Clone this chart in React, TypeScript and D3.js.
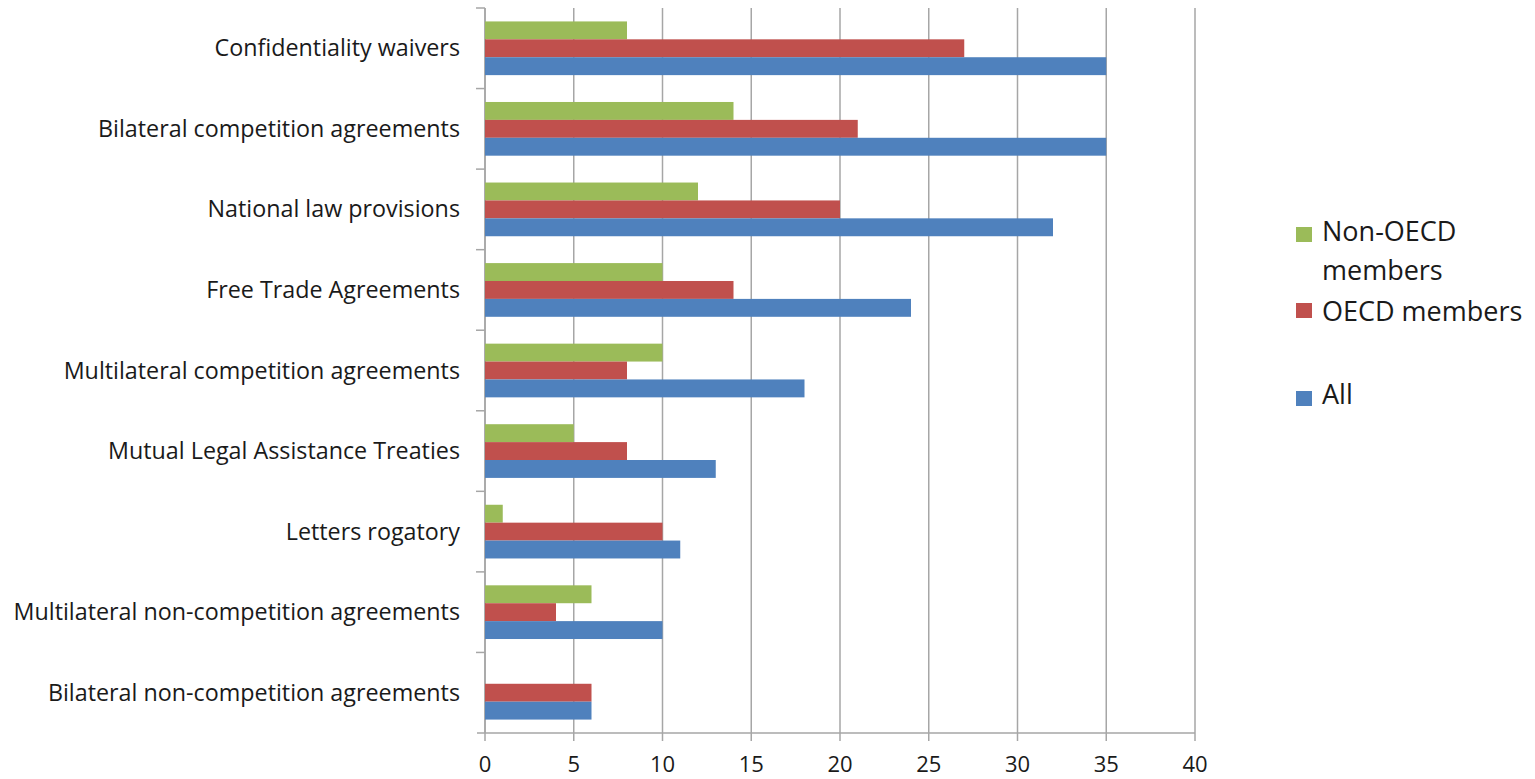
import React from "react";
import * as d3 from "d3";

const categories = [
  "Confidentiality waivers",
  "Bilateral competition agreements",
  "National law provisions",
  "Free Trade Agreements",
  "Multilateral competition agreements",
  "Mutual Legal Assistance Treaties",
  "Letters rogatory",
  "Multilateral non-competition agreements",
  "Bilateral non-competition agreements",
];
const nonOecd = [8, 14, 12, 10, 10, 5, 1, 6, 0];
const oecd = [27, 21, 20, 14, 8, 8, 10, 4, 6];
const all = [35, 35, 32, 24, 18, 13, 11, 10, 6];
const xTicks = [0, 5, 10, 15, 20, 25, 30, 35, 40];

const seriesNames = ["Non-OECD", "OECD members", "All"];
const colors = ["#9BBB59", "#C0504D", "#4F81BD"];

const W = 1535;
const H = 779;
const left = 485;
const right = 1195;
const top = 8;
const bottom = 733;
const FONT = "'Open Sans', sans-serif";

export default function App() {
  const x = d3.scaleLinear().domain([0, 40]).range([left, right]);
  const y = d3.scaleBand().domain(categories).range([top, bottom]).paddingInner(0).paddingOuter(0);
  const bw = y.bandwidth();
  const barH = bw / 4.5;
  const gap = (bw - 3 * barH) / 2;
  const sub = d3.scaleBand().domain(["0", "1", "2"]).range([gap, gap + 3 * barH]);
  const series = [nonOecd, oecd, all];
  const grid = "#A6A6A6";

  return (
    <svg width={W} height={H} style={{ position: "absolute", left: 0, top: 0 }} fontFamily={FONT}>
      <rect width={W} height={H} fill="#fff" />
      {xTicks.map((t) => (
        <line key={"g" + t} x1={x(t)} x2={x(t)} y1={top} y2={bottom + 8} stroke={grid} strokeWidth={1.5} />
      ))}
      <line x1={left} x2={left} y1={top} y2={bottom} stroke={grid} strokeWidth={1.5} />
      <line x1={left - 8} x2={right} y1={bottom} y2={bottom} stroke={grid} strokeWidth={1.5} />
      {categories.map((c, i) => (
        <line key={"yt" + i} x1={left - 9} x2={left} y1={y(c)!} y2={y(c)!} stroke={grid} strokeWidth={1.5} />
      ))}
      {series.map((vals, si) =>
        vals.map((v, i) => (
          <rect
            key={si + "-" + i}
            x={x(0)}
            y={y(categories[i])! + sub(String(si))!}
            width={x(v) - x(0)}
            height={barH}
            fill={colors[si]}
          />
        ))
      )}
      {categories.map((c) => (
        <text key={c} x={460} y={y(c)! + bw / 2 + 8} textAnchor="end" fontSize={23.3} fill="#1a1a1a">
          {c}
        </text>
      ))}
      {xTicks.map((t) => (
        <text key={"xt" + t} x={x(t)} y={772} textAnchor="middle" fontSize={22} fill="#1a1a1a">
          {t}
        </text>
      ))}
      <g fontSize={27} fill="#1a1a1a">
        <rect x={1296} y={227} width={16} height={15} fill={colors[0]} />
        <text x={1322} y={241}>Non-OECD</text>
        <text x={1322} y={280}>members</text>
        <rect x={1296} y={303} width={16} height={15} fill={colors[1]} />
        <text x={1322} y={321}>{seriesNames[1]}</text>
        <rect x={1296} y={391} width={16} height={15} fill={colors[2]} />
        <text x={1322} y={404}>{seriesNames[2]}</text>
      </g>
    </svg>
  );
}
